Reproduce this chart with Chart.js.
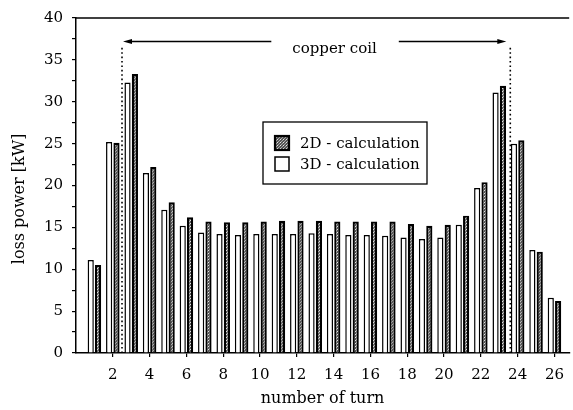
<!DOCTYPE html>
<html>
<head>
<meta charset="utf-8">
<script src="https://cdn.jsdelivr.net/npm/chart.js@4/dist/chart.umd.min.js"></script>
<style>
	html, body { margin: 0; padding: 0; background: #fff; }
	#wrap { width: 573px; height: 410px; position: relative; }
</style>
</head>
<body>
<div id="wrap"><canvas id="chart"></canvas></div>
<script>

// values
const turns = [ 1, 2, 3, 4, 5, 6, 7, 8, 9, 10, 11, 12, 13, 14, 15, 16, 17, 18, 19, 20, 21, 22, 23, 24, 25, 26 ];
const loss3D = [ 11.1, 25.2, 32.3, 21.5, 17.1, 15.2, 14.4, 14.2, 14.1, 14.2, 14.2, 14.2, 14.3, 14.2, 14.1, 14.1, 14.0, 13.8, 13.6, 13.8, 15.3, 19.7, 31.1, 25.0, 12.3, 6.6 ];
const loss2D = [ 10.5, 25.1, 33.3, 22.2, 18.0, 16.2, 15.7, 15.6, 15.6, 15.7, 15.8, 15.8, 15.8, 15.7, 15.7, 15.7, 15.7, 15.4, 15.2, 15.3, 16.4, 20.4, 31.9, 25.4, 12.1, 6.2 ];
const xTicks = [ 2, 4, 6, 8, 10, 12, 14, 16, 18, 20, 22, 24, 26 ];
const yTicks = [ 0, 2.5, 5, 7.5, 10, 12.5, 15, 17.5, 20, 22.5, 25, 27.5, 30, 32.5, 35, 37.5, 40 ];

// copper coil marker (in axis units)
const coilStart = 2.5;
const coilEnd = 23.6;
const coilTop = 36.7;
const coilArrowLevel = 37.2;
const coilLabel = 'copper coil';
const coilLabelAt = 14.05;

const yTitle = 'loss power [kW]';

const FONT = '"DejaVu Serif", "Liberation Serif", serif';

function stipple () {

	const p = document.createElement( 'canvas' );
	p.width = 3;
	p.height = 3;
	const g = p.getContext( '2d' );
	g.fillStyle = '#555';
	g.fillRect( 0, 0, 3, 3 );
	g.fillStyle = '#e4e4e4';
	g.fillRect( 1, 1, 1, 1 );
	g.fillStyle = '#aaa';
	g.fillRect( 0, 2, 1, 1 );
	g.fillRect( 2, 0, 1, 1 );
	return g.createPattern( p, 'repeat' );

}

const grey = stipple();

const decor = {
	id: 'decor',
	afterDatasetsDraw ( chart, args, opts ) {

		const { ctx, chartArea: a, scales: { x, y } } = chart;

		ctx.save();

		// frame top
		ctx.strokeStyle = '#000';
		ctx.lineWidth = 1.5;
		ctx.beginPath();
		ctx.moveTo( a.left, a.top );
		ctx.lineTo( a.right, a.top );
		ctx.stroke();

		// dotted coil limits
		ctx.lineWidth = 1.6;
		ctx.setLineDash( [ 1.6, 2.8 ] );
		[ coilStart, coilEnd ].forEach( t => {

			const px = x.getPixelForValue( t );
			ctx.beginPath();
			ctx.moveTo( px, y.getPixelForValue( 0 ) );
			ctx.lineTo( px, y.getPixelForValue( coilTop ) );
			ctx.stroke();

		} );
		ctx.setLineDash( [] );

		// label with arrows
		ctx.font = '15px ' + FONT;
		ctx.fillStyle = '#000';
		ctx.textAlign = 'center';
		ctx.textBaseline = 'middle';
		const lx = x.getPixelForValue( coilLabelAt );
		const ly = y.getPixelForValue( coilArrowLevel );
		ctx.fillText( coilLabel, lx, ly + 8 );
		const half = ctx.measureText( coilLabel ).width / 2;

		const arrow = ( from, to ) => {

			const dir = Math.sign( to - from );
			ctx.lineWidth = 1.4;
			ctx.beginPath();
			ctx.moveTo( from, ly );
			ctx.lineTo( to - dir * 6, ly );
			ctx.stroke();
			ctx.beginPath();
			ctx.moveTo( to, ly );
			ctx.lineTo( to - dir * 9, ly - 2.5 );
			ctx.lineTo( to - dir * 9, ly + 2.5 );
			ctx.closePath();
			ctx.fill();

		};

		arrow( lx - half - 21, x.getPixelForValue( coilStart ) + 1 );
		arrow( lx + half + 22, x.getPixelForValue( coilEnd ) - 4 );

		// y axis title, set slightly below the axis centre as in the original
		ctx.save();
		ctx.font = '16px ' + FONT;
		ctx.translate( 20, y.getPixelForValue( 18.4 ) );
		ctx.rotate( - Math.PI / 2 );
		ctx.fillText( yTitle, 0, 0 );
		ctx.restore();

		// legend box
		const b = opts.box;
		ctx.lineWidth = 1.3;
		ctx.strokeStyle = '#000';
		ctx.fillStyle = '#fff';
		ctx.fillRect( b.left, b.top, b.width, b.height );
		ctx.strokeRect( b.left, b.top, b.width, b.height );

		const items = chart.data.datasets.slice().reverse();
		ctx.textAlign = 'left';
		items.forEach( ( ds, i ) => {

			const sy = b.top + 14 + i * 21;
			ctx.fillStyle = ds.backgroundColor;
			ctx.fillRect( b.left + 12, sy, 14, 14 );
			ctx.lineWidth = ds.borderWidth;
			ctx.strokeRect( b.left + 12, sy, 14, 14 );
			ctx.fillStyle = '#000';
			ctx.fillText( ds.label, b.left + 37, sy + 8 );

		} );

		ctx.restore();

	}
};

new Chart( document.getElementById( 'chart' ), {
	type: 'bar',
	data: {
		datasets: [
			{
				label: '3D - calculation',
				data: turns.map( ( t, i ) => ( { x: t, y: loss3D[ i ] } ) ),
				backgroundColor: '#fff',
				borderColor: '#000',
				borderWidth: 1.5,
				categoryPercentage: 0.8,
				barPercentage: 0.84
			},
			{
				label: '2D - calculation',
				data: turns.map( ( t, i ) => ( { x: t, y: loss2D[ i ] } ) ),
				backgroundColor: grey,
				borderColor: '#000',
				borderWidth: 2.2,
				categoryPercentage: 0.8,
				barPercentage: 0.84
			}
		]
	},
	options: {
		responsive: true,
		maintainAspectRatio: false,
		animation: false,
		layout: { padding: { top: 15, right: 0, left: 0, bottom: 0 } },
		plugins: {
			legend: { display: false },
			tooltip: { enabled: false },
			decor: { box: { left: 263, top: 122, width: 164, height: 62 } }
		},
		scales: {
			x: {
				type: 'linear',
				offset: false,
				min: 0,
				max: 26.8,
				afterBuildTicks: s => { s.ticks = xTicks.map( v => ( { value: v } ) ); },
				afterFit: s => { s.height = 57; },
				grid: { offset: false, drawOnChartArea: false, tickLength: 4, color: '#000', lineWidth: 1.2 },
				border: { display: true, color: '#000', width: 1.5 },
				ticks: { color: '#000', font: { family: FONT, size: 15 }, padding: 9, maxRotation: 0 },
				title: { display: true, text: 'number of turn', color: '#000', font: { family: FONT, size: 16 }, padding: { top: 0, bottom: 2 } }
			},
			y: {
				min: 0,
				max: 40,
				afterBuildTicks: s => { s.ticks = yTicks.map( v => ( { value: v } ) ); },
				afterFit: s => { s.width = 76; },
				grid: { drawOnChartArea: false, tickLength: 4, color: '#000', lineWidth: 1.2 },
				border: { display: true, color: '#000', width: 1.5 },
				ticks: {
					color: '#000',
					font: { family: FONT, size: 15 },
					padding: 9,
					autoSkip: false,
					callback: v => ( v % 5 === 0 ? v : '' )
				}
			}
		}
	},
	plugins: [ decor ]
} );

</script>
</body>
</html>
